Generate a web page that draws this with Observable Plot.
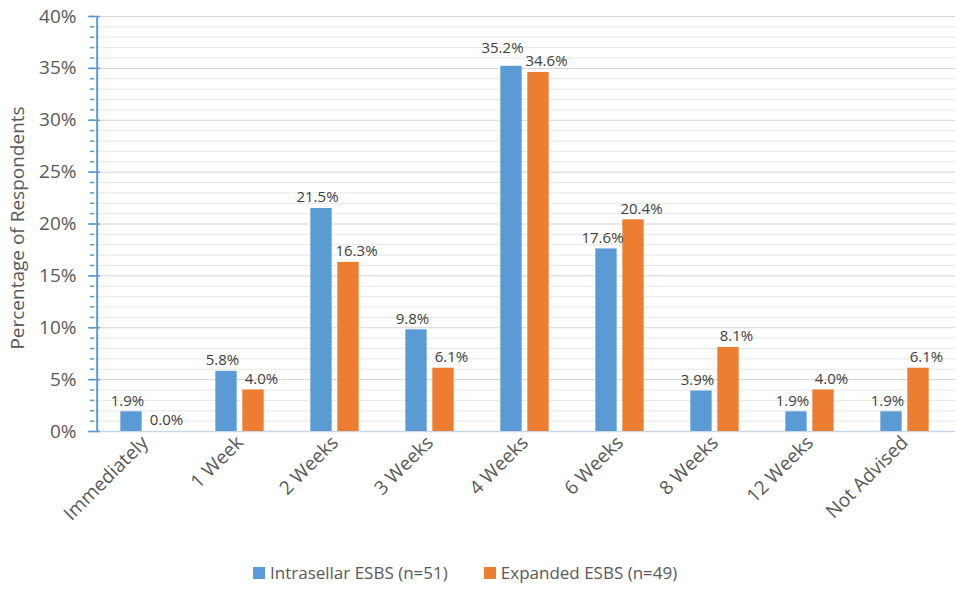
<!DOCTYPE html>
<html>
<head>
<meta charset="utf-8">
<script src="https://cdn.jsdelivr.net/npm/d3@7"></script>
<script src="https://cdn.jsdelivr.net/npm/@observablehq/plot@0.6"></script>
<style>
  body { margin: 0; background: #fff; font-family: "Open Sans", sans-serif; }
  #chart { width: 956px; }
  .legend { display: flex; justify-content: flex-start; gap: 36px; font-size: 17px; color: #595959; margin-top: 13px; padding-left: 253px; }
  .legend span.sw { display: inline-block; width: 12px; height: 12px; margin-right: 5px; }
</style>
</head>
<body>
<div id="chart"></div>
<script>
const categories = ["Immediately", "1 Week", "2 Weeks", "3 Weeks", "4 Weeks", "6 Weeks", "8 Weeks", "12 Weeks", "Not Advised"];
const intrasellar = [1.9, 5.8, 21.5, 9.8, 35.2, 17.6, 3.9, 1.9, 1.9];
const expanded = [0.0, 4.0, 16.3, 6.1, 34.6, 20.4, 8.1, 4.0, 6.1];
const seriesNames = ["Intrasellar ESBS (n=51)", "Expanded ESBS (n=49)"];
const colors = ["#5B9BD5", "#ED7D31"];
const yTicks = [0, 5, 10, 15, 20, 25, 30, 35, 40];

const dataA = categories.map((c, i) => ({category: c, value: intrasellar[i]}));
const dataB = categories.map((c, i) => ({category: c, value: expanded[i]}));
const minor = d3.range(0, 41);

const width = 956, marginLeft = 94, marginRight = 1;
const bw = (width - marginLeft - marginRight) / categories.length;
const barW = 22, off = 13.5;
const inset = (bw - barW) / 2;
const fmt = d => d.value.toFixed(1) + "%";
const crowded = "4 Weeks";

const chart = Plot.plot({
  width, height: 548,
  marginLeft, marginRight, marginTop: 16, marginBottom: 117,
  style: {fontFamily: "'Open Sans', sans-serif", background: "#fff"},
  x: {domain: categories, padding: 0, label: null},
  y: {domain: [0, 40], label: null},
  marks: [
    Plot.ruleY(minor.filter(d => d % 5 !== 0), {stroke: "#e6e6e6", strokeWidth: 1}),
    Plot.ruleY(yTicks.filter(d => d > 0), {stroke: "#d4d4d4", strokeWidth: 1}),
    Plot.ruleY([0], {stroke: "#c9d6e3", strokeWidth: 1.5}),
    Plot.barY(dataA, {x: "category", y: "value", fill: colors[0], dx: -off, insetLeft: inset, insetRight: inset}),
    Plot.barY(dataB, {x: "category", y: "value", fill: colors[1], dx: off, insetLeft: inset, insetRight: inset}),
    Plot.text(dataA.filter(d => d.category !== crowded), {x: "category", y: "value", dx: -off - 4, dy: -11, text: fmt, fontSize: 15, fill: "#404040"}),
    Plot.text(dataA.filter(d => d.category === crowded), {x: "category", y: "value", dx: -off - 9, dy: -18, text: fmt, fontSize: 15, fill: "#404040"}),
    Plot.text(dataB, {x: "category", y: "value", dx: off + 8, dy: -11, text: fmt, fontSize: 15, fill: "#404040"}),
    Plot.ruleX([categories[0]], {dx: -bw / 2, y1: 0, y2: 40, stroke: "#5B9BD5", strokeWidth: 2}),
    Plot.axisY({ticks: minor, tickSize: 4, tickFormat: null, stroke: "#5B9BD5", strokeWidth: 1.5, text: null, label: null}),
    Plot.axisY({ticks: yTicks, tickSize: 6, tickPadding: 12, tickFormat: d => d + "%", stroke: "#5B9BD5", strokeWidth: 1.5, fontSize: 19, fill: "#595959", label: null}),
    Plot.axisY({ticks: yTicks, tickSize: -6, stroke: "#5B9BD5", strokeWidth: 1.5, text: null, label: null}),
    Plot.text(["Percentage of Respondents"], {frameAnchor: "left", textAnchor: "middle", dx: -77, dy: 4, rotate: -90, fontSize: 19, fill: "#595959"}),
    Plot.axisX({tickSize: 0, tickRotate: -45, tickPadding: 8, fontSize: 19, fill: "#595959", label: null})
  ]
});
document.getElementById("chart").appendChild(chart);

const legend = document.createElement("div");
legend.className = "legend";
seriesNames.forEach((n, i) => {
  const item = document.createElement("div");
  item.innerHTML = `<span class="sw" style="background:${colors[i]}"></span>${n}`;
  legend.appendChild(item);
});
document.getElementById("chart").appendChild(legend);
</script>
</body>
</html>
